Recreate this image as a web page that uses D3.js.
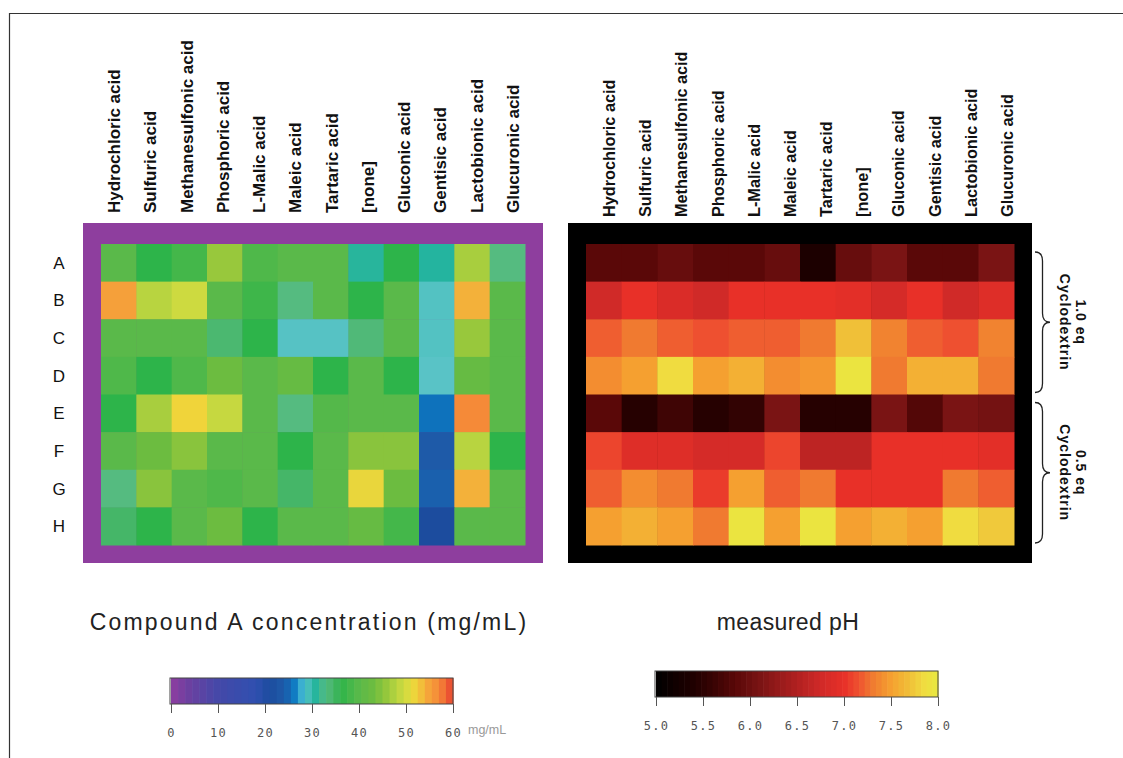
<!DOCTYPE html>
<html>
<head>
<meta charset="utf-8">
<script src="https://cdn.jsdelivr.net/npm/d3@7"></script>
<style>
  body { margin: 0; background: #fff; }
  svg { display: block; font-family: "Liberation Sans", Arial, sans-serif; }
</style>
</head>
<body>
<div id="chart"></div>
<script>
const acids = ['Hydrochloric acid', 'Sulfuric acid', 'Methanesulfonic acid', 'Phosphoric acid',
  'L-Malic acid', 'Maleic acid', 'Tartaric acid', '[none]', 'Gluconic acid', 'Gentisic acid',
  'Lactobionic acid', 'Glucuronic acid'];
const rows = ['A', 'B', 'C', 'D', 'E', 'F', 'G', 'H'];

// compound A concentration, mg/mL (row A..H, one value per acid)
const concA = [40, 36, 38, 46, 39, 40, 40, 30.8, 36, 30.6, 47, 33];
const concB = [55, 48, 49.5, 40, 37.5, 33, 40, 36, 40, 28.8, 54, 40];
const concC = [40, 40, 40, 34, 36, 28.7, 28.7, 33.5, 40, 28.8, 46, 40];
const concD = [39, 36, 39, 43, 40, 42, 36, 40, 36, 28.6, 42, 40];
const concE = [36, 47, 52, 49, 40, 33, 39.5, 40, 40, 26, 57, 40];
const concF = [40, 43, 45, 40, 40, 36, 40, 45, 45, 24, 48, 36];
const concG = [33, 45, 40, 39, 40, 34.5, 40, 51.5, 43, 24.5, 54, 40];
const concH = [34.5, 36, 40, 43, 36, 40, 40, 42, 38, 21, 40, 40];

// measured pH
const phA = [5.85, 5.85, 5.95, 5.85, 5.85, 5.95, 5.35, 5.95, 6.1, 5.85, 5.85, 6.1];
const phB = [6.75, 7.0, 6.85, 6.75, 7.0, 7.0, 7.0, 6.95, 6.8, 7.0, 6.75, 6.9];
const phC = [7.2, 7.3, 7.2, 7.15, 7.2, 7.2, 7.3, 7.7, 7.35, 7.2, 7.15, 7.35];
const phD = [7.4, 7.5, 7.85, 7.5, 7.6, 7.4, 7.45, 7.95, 7.3, 7.6, 7.6, 7.3];
const phE = [5.85, 5.45, 5.65, 5.45, 5.55, 6.1, 5.45, 5.45, 6.1, 5.8, 6.1, 6.05];
const phF = [7.1, 6.9, 6.9, 6.8, 6.8, 7.1, 6.6, 6.6, 7.0, 7.0, 7.0, 6.95];
const phG = [7.2, 7.4, 7.3, 7.05, 7.5, 7.2, 7.3, 7.0, 7.0, 7.0, 7.3, 7.2];
const phH = [7.5, 7.6, 7.5, 7.3, 7.95, 7.5, 7.95, 7.5, 7.6, 7.5, 7.85, 7.75];

const concRows = [concA, concB, concC, concD, concE, concF, concG, concH];
const phRows = [phA, phB, phC, phD, phE, phF, phG, phH];

const concTicks = [0, 10, 20, 30, 40, 50, 60];
const phTicks = [5.0, 5.5, 6.0, 6.5, 7.0, 7.5, 8.0];
const groups = [{label: '1.0 eq', rows: ['A', 'D']}, {label: '0.5 eq', rows: ['E', 'H']}];

const width = 1123, height = 758;

const svg = d3.select('#chart').append('svg')
  .attr('width', width).attr('height', height);

// page frame
svg.append('path')
  .attr('d', 'M9.5,' + height + 'V13.5H' + width)
  .attr('fill', 'none').attr('stroke', '#333').attr('stroke-width', 1.2);

// colour scales
const concColor = d3.scaleLinear()
  .domain([0, 4, 10, 18, 21, 24, 26, 27, 28.5, 30.5, 33, 35, 36, 40, 43, 46, 48, 50, 52, 55, 57, 60])
  .range(['#8e3ea0', '#6a40a0', '#4448a8', '#3050b0', '#1c4c9e', '#1e5aa8', '#0e72bc', '#1a9ad8',
    '#5cc4c8', '#22b4a0', '#55bb80', '#40b460', '#2db44a', '#5ab94a', '#6cbc40', '#98c83c',
    '#b8d440', '#d4dc40', '#f0d43a', '#f5a03a', '#f58a38', '#e84030'])
  .clamp(true);

const phColor = d3.scaleLinear()
  .domain([5.0, 5.4, 5.6, 5.85, 6.1, 6.5, 6.75, 7.0, 7.15, 7.3, 7.5, 7.7, 7.85, 8.0])
  .range(['#000000', '#200000', '#380404', '#5a0808', '#7a1414', '#b02020', '#d02a28', '#e83028',
    '#ee5030', '#f07a30', '#f5a030', '#f0c038', '#f0dc40', '#e8e840'])
  .clamp(true);

const yRow = d3.scaleBand().domain(rows).range([244, 545]);
const xLeft = d3.scaleBand().domain(acids).range([101, 525]);
const xRight = d3.scaleBand().domain(acids).range([586, 1014]);

function heatmap(x, data, color, frameColor, labelRange, labelBottom, fontSize) {
  const g = svg.append('g');
  const pad = 18;
  g.append('rect')
    .attr('x', x.range()[0] - pad).attr('y', yRow.range()[0] - 21)
    .attr('width', x.range()[1] - x.range()[0] + 2 * pad)
    .attr('height', yRow.range()[1] - yRow.range()[0] + 39)
    .attr('fill', frameColor);

  const cells = [];
  data.forEach((vals, r) => vals.forEach((v, c) => cells.push({row: rows[r], acid: acids[c], v: v})));

  g.selectAll('rect.cell').data(cells).enter().append('rect')
    .attr('class', 'cell')
    .attr('x', d => x(d.acid))
    .attr('y', d => yRow(d.row))
    .attr('width', x.bandwidth() + 0.5)
    .attr('height', yRow.bandwidth() + 0.5)
    .attr('fill', d => color(d.v));

  const lx = d3.scalePoint().domain(acids).range(labelRange);
  g.selectAll('text.acid').data(acids).enter().append('text')
    .attr('class', 'acid')
    .attr('transform', d => 'translate(' + (lx(d) + 6) + ',' + labelBottom + ') rotate(-90)')
    .attr('font-size', fontSize).attr('font-weight', 'bold').attr('fill', '#111')
    .text(d => d);
}

heatmap(xLeft, concRows, concColor, '#8e3e9e', [114, 513], 213, 17);
heatmap(xRight, phRows, phColor, '#000', [609, 1007], 217, 16.3);

// row letters
svg.selectAll('text.row').data(rows).enter().append('text')
  .attr('class', 'row')
  .attr('x', 59).attr('y', d => yRow(d) + yRow.bandwidth() / 2 + 6)
  .attr('text-anchor', 'middle').attr('font-size', 17).attr('fill', '#111')
  .text(d => d);

// braces for cyclodextrin groups
groups.forEach(grp => {
  const y0 = yRow(grp.rows[0]) + 8, y1 = yRow(grp.rows[1]) + yRow.bandwidth() - 2;
  const ym = (y0 + y1) / 2, x0 = 1035, w = 15, r = 9;
  svg.append('path')
    .attr('d', 'M' + x0 + ',' + y0 +
      'Q' + (x0 + w / 2) + ',' + y0 + ' ' + (x0 + w / 2) + ',' + (y0 + r) +
      'L' + (x0 + w / 2) + ',' + (ym - r) +
      'Q' + (x0 + w / 2) + ',' + ym + ' ' + (x0 + w) + ',' + ym +
      'Q' + (x0 + w / 2) + ',' + ym + ' ' + (x0 + w / 2) + ',' + (ym + r) +
      'L' + (x0 + w / 2) + ',' + (y1 - r) +
      'Q' + (x0 + w / 2) + ',' + y1 + ' ' + x0 + ',' + y1)
    .attr('fill', 'none').attr('stroke', '#222').attr('stroke-width', 1.3);
  const t = svg.append('text')
    .attr('transform', 'translate(1076,' + ym + ') rotate(90)')
    .attr('text-anchor', 'middle').attr('font-size', 14).attr('font-weight', 'bold')
    .attr('letter-spacing', 1).attr('fill', '#111');
  t.append('tspan').attr('x', 0).attr('dy', 0).text(grp.label);
  t.append('tspan').attr('x', 0).attr('dy', 16).text('Cyclodextrin');
});

// titles
svg.append('text').attr('x', 309).attr('y', 630).attr('text-anchor', 'middle')
  .attr('font-size', 23).attr('letter-spacing', 2.2).attr('fill', '#222')
  .text('Compound A concentration (mg/mL)');
svg.append('text').attr('x', 788).attr('y', 630).attr('text-anchor', 'middle')
  .attr('font-size', 23).attr('letter-spacing', 0.4).attr('fill', '#222')
  .text('measured pH');

// colour bars
function colorbar(scale, color, step, top, barH, ticks, fmt, pad) {
  const [lo, hi] = scale.domain();
  const g = svg.append('g');
  const steps = d3.range(lo, hi - 1e-9, step);
  g.selectAll('rect.sw').data(steps).enter().append('rect')
    .attr('class', 'sw')
    .attr('x', d => scale(d))
    .attr('y', top)
    .attr('width', d => scale(Math.min(d + step, hi)) - scale(d) + 0.6)
    .attr('height', barH)
    .attr('fill', d => color(d + step / 2));
  g.append('rect')
    .attr('x', scale(lo) - 1).attr('y', top)
    .attr('width', scale(hi) - scale(lo) + 1).attr('height', barH)
    .attr('fill', 'none').attr('stroke', '#444').attr('stroke-width', 1);

  const axis = d3.axisBottom(scale).tickValues(ticks).tickSize(9).tickPadding(pad).tickFormat(fmt);
  const ax = g.append('g').attr('transform', 'translate(0,' + (top + barH) + ')').call(axis);
  ax.select('.domain').remove();
  ax.selectAll('line').attr('stroke', '#555');
  ax.selectAll('text')
    .attr('font-family', '"DejaVu Sans Mono", monospace')
    .attr('font-size', 12).attr('letter-spacing', 1.2).attr('fill', '#555');
  return g;
}

const concScale = d3.scaleLinear().domain([0, 60]).range([171, 453]);
colorbar(concScale, concColor, 1.5, 678, 26, concTicks, d3.format('d'), 15);
svg.append('text').attr('x', 468).attr('y', 734)
  .attr('font-size', 12.5).attr('fill', '#999').text('mg/mL');

const phScale = d3.scaleLinear().domain([5, 8]).range([656, 938]);
colorbar(phScale, phColor, 0.06, 671, 26, phTicks, d3.format('.1f'), 15);
</script>
</body>
</html>
